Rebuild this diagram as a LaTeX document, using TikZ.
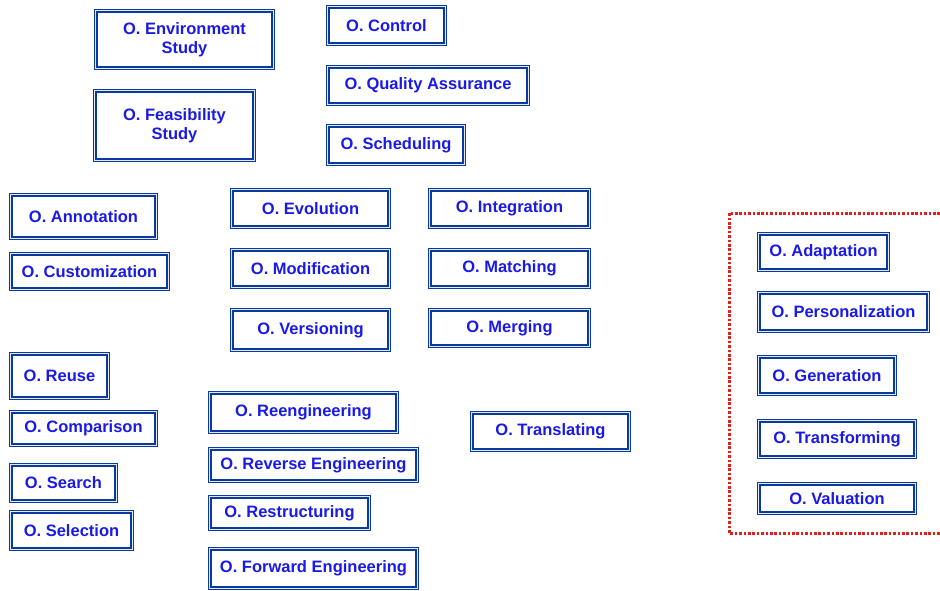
\documentclass[tikz,border=0pt]{standalone}
\usepackage{fontspec}
\setmainfont{Liberation Sans}
\definecolor{framebl}{HTML}{0B3A9E}
\definecolor{framegap}{HTML}{E4EAF8}
\definecolor{textbl}{HTML}{1A1AE6}
\definecolor{groupred}{HTML}{E0201A}
\tikzset{
  opbox/.style={rectangle, draw=framebl, line width=1.3pt, double=framegap,
    double distance=1.0pt, fill=white, inner sep=0pt, align=center,
    text=textbl, font=\bfseries\fontsize{16.5}{19.5}\selectfont},
  groupframe/.style={draw=groupred, line width=3pt, dash pattern=on 2.6pt off 1.8pt}
}
% \opnode{name}{left}{top}{right}{bottom}{label}: box given by its outer edges
\newcommand\opnode[6]{%
  \node[opbox, minimum width={#4-#2-3.6}, minimum height={#5-#3-3.6}]
    (#1) at ({(#2+#4)/2},{(#3+#5)/2}) {#6};}
\begin{document}
\begin{tikzpicture}[x=1pt,y=-1pt]
\useasboundingbox (0,0) rectangle (940,590);
% upper block
\opnode{envstudy}{94}{9}{275}{70}{O. Environment\\Study}
\opnode{feasstudy}{93}{89}{256}{162}{O. Feasibility\\Study}
\opnode{control}{326}{5}{447}{46}{O. Control}
\opnode{quality}{326}{65}{530}{106}{O. Quality Assurance}
\opnode{scheduling}{326}{124}{466}{166}{O. Scheduling}
% left column
\opnode{annotation}{9}{193}{158}{240}{O. Annotation}
\opnode{customization}{9}{252}{170}{291}{O. Customization}
\opnode{reuse}{9}{352}{110}{400}{O. Reuse}
\opnode{comparison}{9}{410}{158}{447}{O. Comparison}
\opnode{search}{9}{463}{118}{503}{O. Search}
\opnode{selection}{9}{510}{134}{551}{O. Selection}
% middle grid
\opnode{evolution}{230}{188}{391}{229}{O. Evolution}
\opnode{modification}{230}{248}{391}{289}{O. Modification}
\opnode{versioning}{230}{308}{391}{352}{O. Versioning}
\opnode{integration}{428}{188}{591}{229}{O. Integration}
\opnode{matching}{428}{248}{591}{289}{O. Matching}
\opnode{merging}{428}{308}{591}{348}{O. Merging}
% engineering column
\opnode{reeng}{208}{391}{399}{434}{O. Reengineering}
\opnode{reveng}{208}{447}{419}{483}{O. Reverse Engineering}
\opnode{restruct}{208}{495}{371}{531}{O. Restructuring}
\opnode{fwdeng}{208}{547}{419}{590}{O. Forward Engineering}
\opnode{translating}{470}{411}{631}{452}{O. Translating}
% grouped operations
\draw[groupframe] (940,213) -- (729,213) -- (729,533) -- (940,533);
\opnode{adaptation}{757}{232}{890}{272}{O. Adaptation}
\opnode{personalization}{757}{291}{930}{333}{O. Personalization}
\opnode{generation}{757}{355}{897}{396}{O. Generation}
\opnode{transforming}{757}{419}{917}{459}{O. Transforming}
\opnode{valuation}{757}{482}{917}{515}{O. Valuation}
\end{tikzpicture}
\end{document}
